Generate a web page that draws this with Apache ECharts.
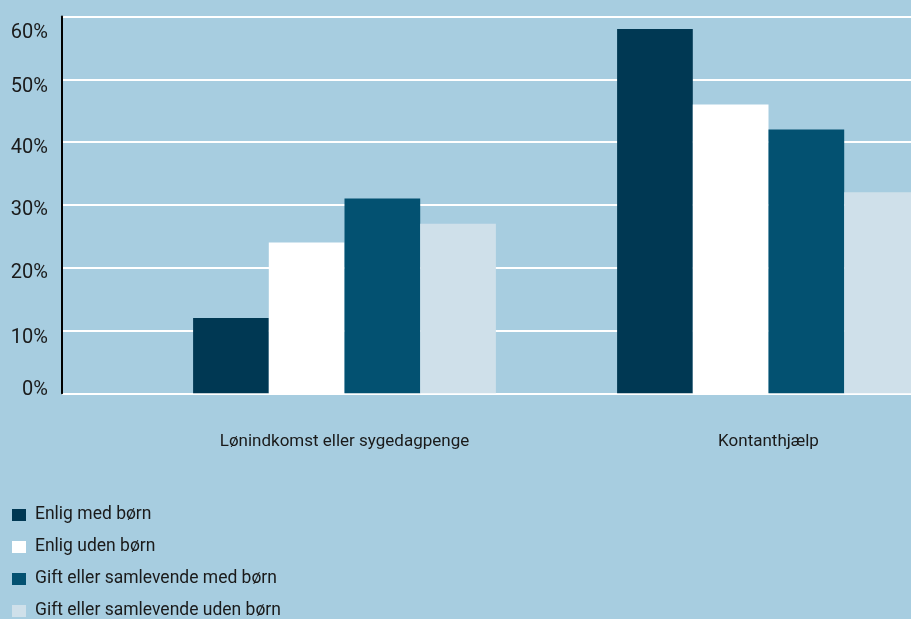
<!DOCTYPE html>
<html>
<head>
<meta charset="utf-8">
<script src="https://cdn.jsdelivr.net/npm/echarts@6/dist/echarts.min.js"></script>
<style>
html,body{margin:0;padding:0;background:#a7cde0;}
#chart{width:911px;height:619px;}
</style>
</head>
<body>
<div id="chart"></div>
<script>
var categories = ['Lønindkomst eller sygedagpenge', 'Kontanthjælp'];
var seriesNames = ['Enlig med børn', 'Enlig uden børn', 'Gift eller samlevende med børn', 'Gift eller samlevende uden børn'];
var enligMedBoern = [12, 58];
var enligUdenBoern = [24, 46];
var giftMedBoern = [31, 42];
var giftUdenBoern = [27, 32];
var yTicks = [0, 10, 20, 30, 40, 50, 60];

var colors = ['#003853', '#ffffff', '#035171', '#cfe0ea'];
var seriesData = [enligMedBoern, enligUdenBoern, giftMedBoern, giftUdenBoern];
var FONT = 'Roboto';

// per-label vertical nudges to mimic the reference label placement
var labelShift = {0: -3, 10: 7, 20: 5, 30: 5, 40: 6, 50: 8, 60: 16};
var rich = {};
yTicks.forEach(function (v) {
  var d = labelShift[v];
  rich['t' + v] = {
    fontFamily: FONT, fontSize: 20, color: '#1a1a1a',
    padding: d >= 0 ? [2 * d, 0, 0, 0] : [0, 0, -2 * d, 0]
  };
});

var chart = echarts.init(document.getElementById('chart'), null, {renderer: 'canvas'});
var option = {
  backgroundColor: '#a7cde0',
  animation: false,
  textStyle: {fontFamily: FONT},
  grid: [
    {left: 62, right: 0, top: 16.5, height: 376.8},
    {left: 344.5, right: 142.5, top: 16.5, height: 376.8}
  ],
  xAxis: [
    {gridIndex: 0, type: 'value', show: false, min: 0, max: 1},
    {
      gridIndex: 1, type: 'category', data: categories, boundaryGap: false,
      axisLine: {show: false}, axisTick: {show: false},
      axisLabel: {margin: 40, fontFamily: FONT, fontSize: 17, color: '#1a1a1a', interval: 0}
    }
  ],
  yAxis: [
    {
      gridIndex: 0, type: 'value', min: 0, max: 60, interval: 10,
      axisLine: {show: true, lineStyle: {color: '#000000', width: 2}},
      axisTick: {show: false},
      splitLine: {show: true, lineStyle: {color: '#ffffff', width: 2}},
      axisLabel: {
        margin: 14,
        formatter: function (v) { return '{t' + v + '|' + v + '%}'; },
        rich: rich
      }
    },
    {gridIndex: 1, type: 'value', min: 0, max: 60, show: false, splitLine: {show: false}}
  ],
  legend: {
    orient: 'vertical', left: 12, top: 506, height: 140, padding: 0,
    icon: 'rect', itemWidth: 14, itemHeight: 12, itemGap: 14,
    textStyle: {fontFamily: FONT, fontSize: 17.5, color: '#1a1a1a', lineHeight: 17, padding: [0, 0, 0, 4]},
    data: seriesNames
  },
  series: seriesNames.map(function (name, i) {
    return {
      name: name, type: 'bar', xAxisIndex: 1, yAxisIndex: 1,
      data: seriesData[i], barWidth: 75.7, barGap: '0%', clip: false,
      itemStyle: {color: colors[i]}
    };
  })
};
chart.setOption(option);
</script>
</body>
</html>
